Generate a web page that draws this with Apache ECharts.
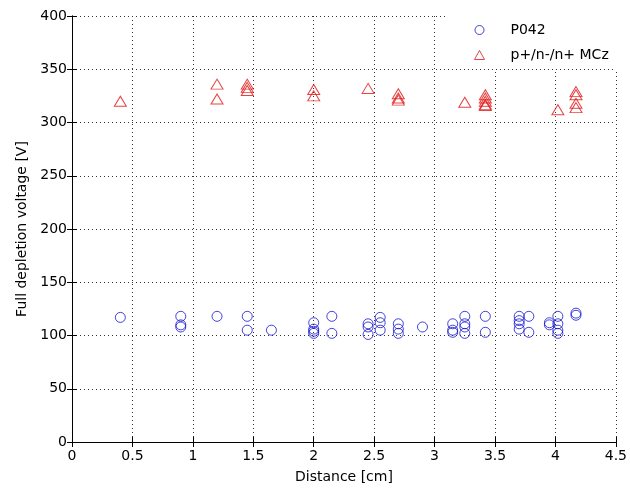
<!DOCTYPE html>
<html>
<head>
<meta charset="utf-8">
<script src="https://cdn.jsdelivr.net/npm/echarts@6/dist/echarts.min.js"></script>
<style>
html, body { margin: 0; padding: 0; background: #fff; }
#chart { width: 630px; height: 491px; }
</style>
</head>
<body>
<div id="chart"></div>
<script>
// P042 (circles)
var p042Dist = [0.4, 0.9, 0.9, 0.9, 1.2, 1.45, 1.45, 1.65, 2, 2, 2, 2, 2.15, 2.15,
  2.45, 2.45, 2.45, 2.55, 2.55, 2.55, 2.7, 2.7, 2.7, 2.9, 3.15, 3.15, 3.15,
  3.25, 3.25, 3.25, 3.25, 3.42, 3.42, 3.7, 3.7, 3.7, 3.7, 3.78, 3.78, 3.95, 3.95,
  4.02, 4.02, 4.02, 4.02, 4.17, 4.17]
var p042Volt = [117, 118, 110, 108, 118, 118, 105, 105, 112, 106, 104, 102, 118, 102,
  111, 108, 101, 117, 112, 105, 111, 106, 102, 108, 111, 105, 103,
  118, 111, 108, 102, 118, 103, 118, 114, 111, 106, 118, 103, 112, 110,
  118, 111, 105, 102, 121, 119]

// p+/n-/n+ MCz (triangles)
var mczDist = [0.4, 1.2, 1.2, 1.45, 1.45, 1.45, 2, 2, 2.45, 2.7, 2.7, 2.7, 3.25,
  3.42, 3.42, 3.42, 3.42, 3.42, 4.02, 4.17, 4.17, 4.17, 4.17]
var mczVolt = [320, 336, 322, 336, 333, 330, 331, 325, 332, 327, 323, 321, 319,
  326, 323, 320, 317, 316, 312, 329, 326, 318, 314]

var seriesNames = ['P042', 'p+/n-/n+ MCz']

function zip (xs, ys) {
  return xs.map(function (x, i) { return [x, ys[i]] })
}

var font = 'DejaVu Sans'
var chart = echarts.init(document.getElementById('chart'))

// top / right axes only draw the box and the inner ticks
var boxAxis = {
  show: true,
  axisLine: { show: true, lineStyle: { color: '#000', width: 1 } },
  axisTick: { show: true, inside: true, length: 5, lineStyle: { color: '#000' } },
  axisLabel: { show: false },
  splitLine: { show: false }
}

chart.setOption({
  animation: false,
  grid: { left: 72, right: 11, top: 16, bottom: 49 },
  legend: {
    orient: 'vertical',
    left: 445,
    top: 12,
    data: seriesNames,
    backgroundColor: '#fff',
    borderWidth: 0,
    padding: [10, 10, 6, 29],
    itemGap: 9,
    itemWidth: 10,
    itemHeight: 9,
    itemStyle: { borderWidth: 1 },
    textStyle: { fontFamily: font, fontSize: 14, color: '#000', lineHeight: 16, padding: [0, 0, 0, 21] }
  },
  xAxis: [
    {
      type: 'value',
      min: 0,
      max: 4.5,
      interval: 0.5,
      name: 'Distance [cm]',
      nameLocation: 'middle',
      nameGap: 28,
      nameTextStyle: { fontFamily: font, fontSize: 14, color: '#000' },
      axisLine: { lineStyle: { color: '#000', width: 1 } },
      axisTick: { inside: true, length: 5, lineStyle: { color: '#000' } },
      axisLabel: { fontFamily: font, fontSize: 14, color: '#000', margin: 7 },
      splitLine: { show: true, lineStyle: { color: '#333', type: [1, 3], width: 1 } }
    },
    Object.assign({ type: 'value', min: 0, max: 4.5, interval: 0.5, position: 'top' }, boxAxis)
  ],
  yAxis: [
    {
      type: 'value',
      min: 0,
      max: 400,
      interval: 50,
      name: 'Full depletion voltage [V]',
      nameLocation: 'middle',
      nameGap: 40,
      nameTextStyle: { fontFamily: font, fontSize: 14, color: '#000' },
      axisLine: { show: true, lineStyle: { color: '#000', width: 1 } },
      axisTick: { show: true, inside: true, length: 5, lineStyle: { color: '#000' } },
      axisLabel: { fontFamily: font, fontSize: 14, color: '#000', margin: 5 },
      splitLine: { show: true, lineStyle: { color: '#333', type: [1, 3], width: 1 } }
    },
    Object.assign({ type: 'value', min: 0, max: 400, interval: 50, position: 'right' }, boxAxis)
  ],
  series: [
    {
      name: seriesNames[0],
      type: 'scatter',
      symbol: 'circle',
      symbolSize: 10,
      itemStyle: { color: 'transparent', borderColor: '#1414d0', borderWidth: 1 },
      data: zip(p042Dist, p042Volt)
    },
    {
      name: seriesNames[1],
      type: 'scatter',
      symbol: 'triangle',
      symbolSize: [12, 10],
      itemStyle: { color: 'transparent', borderColor: '#e01414', borderWidth: 1 },
      data: zip(mczDist, mczVolt)
    }
  ]
})
</script>
</body>
</html>
